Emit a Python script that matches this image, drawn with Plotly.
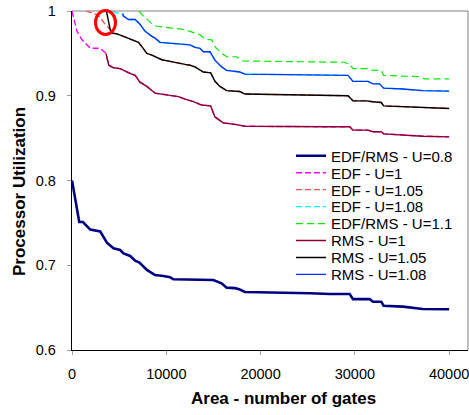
import plotly.graph_objects as go

# ---------------- data ----------------
x_ticks = [0, 10000, 20000, 30000, 40000]
y_ticks = [0.6, 0.7, 0.8, 0.9, 1.0]
y_tick_labels = ["0.6", "0.7", "0.8", "0.9", "1"]

# EDF/RMS - U=0.8
u080_x = [0, 770, 1160, 1940, 2990, 3280, 3700, 4400, 5110, 5460, 6170, 6700, 7150, 7940,
          8810, 9690, 10400, 10750, 14980, 15870, 16400, 17280, 17740, 18340, 21330, 25220,
          27330, 29450, 29800, 31570, 31920, 32800, 33050, 35090, 37200, 40000]
u080_y = [0.800, 0.751, 0.751, 0.742, 0.740, 0.734, 0.7266, 0.720, 0.718, 0.714, 0.711,
          0.7055, 0.7032, 0.6945, 0.6885, 0.6874, 0.686, 0.6835, 0.6826, 0.6787, 0.6736,
          0.673, 0.6716, 0.6685, 0.668, 0.667, 0.666, 0.666, 0.660, 0.660, 0.657, 0.657,
          0.6523, 0.6512, 0.6484, 0.648]

# RMS - U=1
rms100_x = [3600, 3900, 4400, 5100, 6000, 6700, 7200, 7940, 8810, 9520, 10400, 11290, 12000,
            12880, 13750, 14710, 15160, 16040, 17460, 18340, 27330, 29450, 29800, 31390,
            31920, 32800, 33050, 35090, 37210, 40000]
rms100_y = [0.950, 0.936, 0.933, 0.932, 0.927, 0.924, 0.916, 0.911, 0.903, 0.902, 0.901,
            0.899, 0.896, 0.893, 0.889, 0.888, 0.875, 0.868, 0.866, 0.864, 0.8634, 0.8634,
            0.8594, 0.8594, 0.8575, 0.8575, 0.855, 0.8535, 0.8523, 0.8515]
# EDF - U=1 : own start, then coincides with RMS - U=1
edf100_head_x = [0, 530, 1060, 1940, 3000, 3500]
edf100_head_y = [1.0, 0.976, 0.966, 0.956, 0.956, 0.951]

# RMS - U=1.05
rms105_x = [3650, 4050, 4230, 4760, 5460, 6350, 7050, 7410, 7940, 8470, 9000, 9520, 10400,
            11110, 11990, 12520, 13050, 13930, 14710, 15160, 15690, 16400, 17800, 18340,
            27330, 29270, 29800, 31220, 31920, 32800, 33050, 35090, 37210, 40000]
rms105_y = [1.0, 0.978, 0.974, 0.973, 0.970, 0.966, 0.963, 0.958, 0.950, 0.948, 0.945,
            0.9425, 0.9405, 0.9386, 0.937, 0.936, 0.934, 0.928, 0.927, 0.917, 0.911, 0.906,
            0.905, 0.902, 0.9007, 0.900, 0.894, 0.894, 0.893, 0.892, 0.888, 0.887, 0.8855,
            0.885]
# EDF - U=1.05 : own start, then coincides with RMS - U=1.05
edf105_head_x = [1500, 2300, 2800, 3400]
edf105_head_y = [1.0, 0.997, 0.995, 0.986]

# RMS - U=1.08
rms108_x = [5400, 5460, 5990, 6700, 7230, 7760, 8470, 8810, 9340, 10400, 11460, 12520, 13050,
            13580, 13930, 14630, 15160, 15870, 16400, 17800, 18340, 27330, 29270, 29800,
            31390, 31920, 32620, 33050, 35090, 37210, 40000]
rms108_y = [0.997, 0.994, 0.990, 0.990, 0.984, 0.976, 0.970, 0.968, 0.963, 0.962, 0.961,
            0.960, 0.957, 0.956, 0.952, 0.952, 0.942, 0.934, 0.930, 0.928, 0.9255, 0.924,
            0.924, 0.917, 0.917, 0.914, 0.914, 0.909, 0.908, 0.906, 0.9055]
# EDF - U=1.08 : own start, then coincides with RMS - U=1.08
edf108_head_x = [4400, 4600, 5290]
edf108_head_y = [1.0, 0.998, 0.997]

# EDF/RMS - U=1.1
u110_x = [7100, 7580, 8470, 9000, 10400, 11460, 12520, 13580, 14100, 14810, 15160, 15870,
          16400, 17460, 18160, 27330, 28920, 29450, 29800, 31390, 31920, 32800, 33050,
          36860, 37390, 40000]
u110_y = [1.0, 0.994, 0.985, 0.982, 0.980, 0.979, 0.976, 0.972, 0.967, 0.966, 0.958, 0.950,
          0.946, 0.946, 0.941, 0.9395, 0.9395, 0.937, 0.932, 0.932, 0.930, 0.930, 0.924,
          0.9225, 0.920, 0.920]

FONT = "Liberation Sans, Arial, sans-serif"

series = [
    ("EDF/RMS - U=0.8", u080_x, u080_y, "#000080", 2.6, "solid"),
    ("EDF - U=1", edf100_head_x + rms100_x, edf100_head_y + rms100_y, "#FF00FF", 1.4, "6px,3px"),
    ("EDF - U=1.05", edf105_head_x + rms105_x[1:], edf105_head_y + rms105_y[1:], "#FF5050", 1.4, "6px,3px"),
    ("EDF - U=1.08", edf108_head_x + rms108_x[1:], edf108_head_y + rms108_y[1:], "#00FFFF", 1.4, "6px,3px"),
    ("EDF/RMS - U=1.1", u110_x, u110_y, "#00EE00", 1.2, "7px,4px"),
    ("RMS - U=1", rms100_x, rms100_y, "#8B0030", 1.4, "solid"),
    ("RMS - U=1.05", rms105_x, rms105_y, "#000000", 1.4, "solid"),
    ("RMS - U=1.08", rms108_x, rms108_y, "#0033FF", 1.4, "solid"),
]

W, H = 469, 415
# Plot area in window pixels
PX0, PX1, PY0, PY1 = 72, 468, 11, 350
PW, PH = PX1 - PX0, PY1 - PY0


def px(xw):
    return (xw - PX0) / PW


def py(yw):
    return (PY1 - yw) / PH


fig = go.Figure()
legend_layout = {}
for i, (name, xs, ys, col, w, dash) in enumerate(series):
    key = "legend" if i == 0 else f"legend{i + 1}"
    fig.add_trace(go.Scatter(x=xs, y=ys, mode="lines", name=name,
                             line=dict(color=col, width=w, dash=dash),
                             legend=key))
    legend_layout[key] = dict(
        x=px(291), xanchor="left",
        y=py(156.0 + 16.95 * i), yanchor="middle",
        bgcolor="rgba(0,0,0,0)", borderwidth=0,
        font=dict(family=FONT, size=15, color="#000000"),
        itemwidth=30,
    )

fig.update_layout(
    width=W, height=H,
    margin=dict(l=PX0, r=W - PX1, t=PY0, b=H - PY1, autoexpand=False),
    paper_bgcolor="white", plot_bgcolor="white",
    font=dict(family=FONT, size=14.5, color="#000000"),
    showlegend=True,
    **legend_layout,
    xaxis=dict(range=[0, 42000], tickvals=x_ticks, ticktext=[str(v) for v in x_ticks],
               showgrid=False, zeroline=False, showline=True, linecolor="#000000",
               linewidth=1.3, ticks="outside", ticklen=4, tickcolor="#A0A0A0",
               automargin=False, ticklabeloverflow="allow",
               ticklabelstandoff=6, tickfont=dict(family=FONT, size=14.5)),
    yaxis=dict(range=[0.6, 1.0], tickvals=y_ticks, ticktext=y_tick_labels,
               showgrid=False, zeroline=False, showline=True, linecolor="#000000",
               linewidth=1.3, ticks="outside", ticklen=4, tickcolor="#A0A0A0",
               automargin=False, ticklabeloverflow="allow",
               ticklabelstandoff=8, tickfont=dict(family=FONT, size=14.5)),
    shapes=[
        dict(type="line", xref="paper", yref="paper", x0=0, x1=1, y0=1, y1=1,
             line=dict(color="#808080", width=1)),
        dict(type="line", xref="paper", yref="paper", x0=1, x1=1, y0=0, y1=1,
             line=dict(color="#808080", width=1)),
        dict(type="circle", xref="paper", yref="paper",
             x0=px(95.5), x1=px(115.5), y0=py(34.5), y1=py(10.5),
             line=dict(color="#FF0000", width=3)),
    ],
    annotations=[
        dict(text="<b>Area - number of gates</b>", xref="paper", yref="paper",
             x=px(283), y=py(398), xanchor="center", yanchor="middle",
             showarrow=False, font=dict(family=FONT, size=17)),
        dict(text="<b>Processor Utilization</b>", xref="paper", yref="paper",
             x=px(19), y=py(192), xanchor="center", yanchor="middle",
             textangle=-90, showarrow=False, font=dict(family=FONT, size=17)),
    ],
)

fig.write_html(
    "out.html",
    config={"responsive": False, "displayModeBar": False},
    post_script="document.body.style.margin='0px'; document.body.style.overflow='hidden';",
)
